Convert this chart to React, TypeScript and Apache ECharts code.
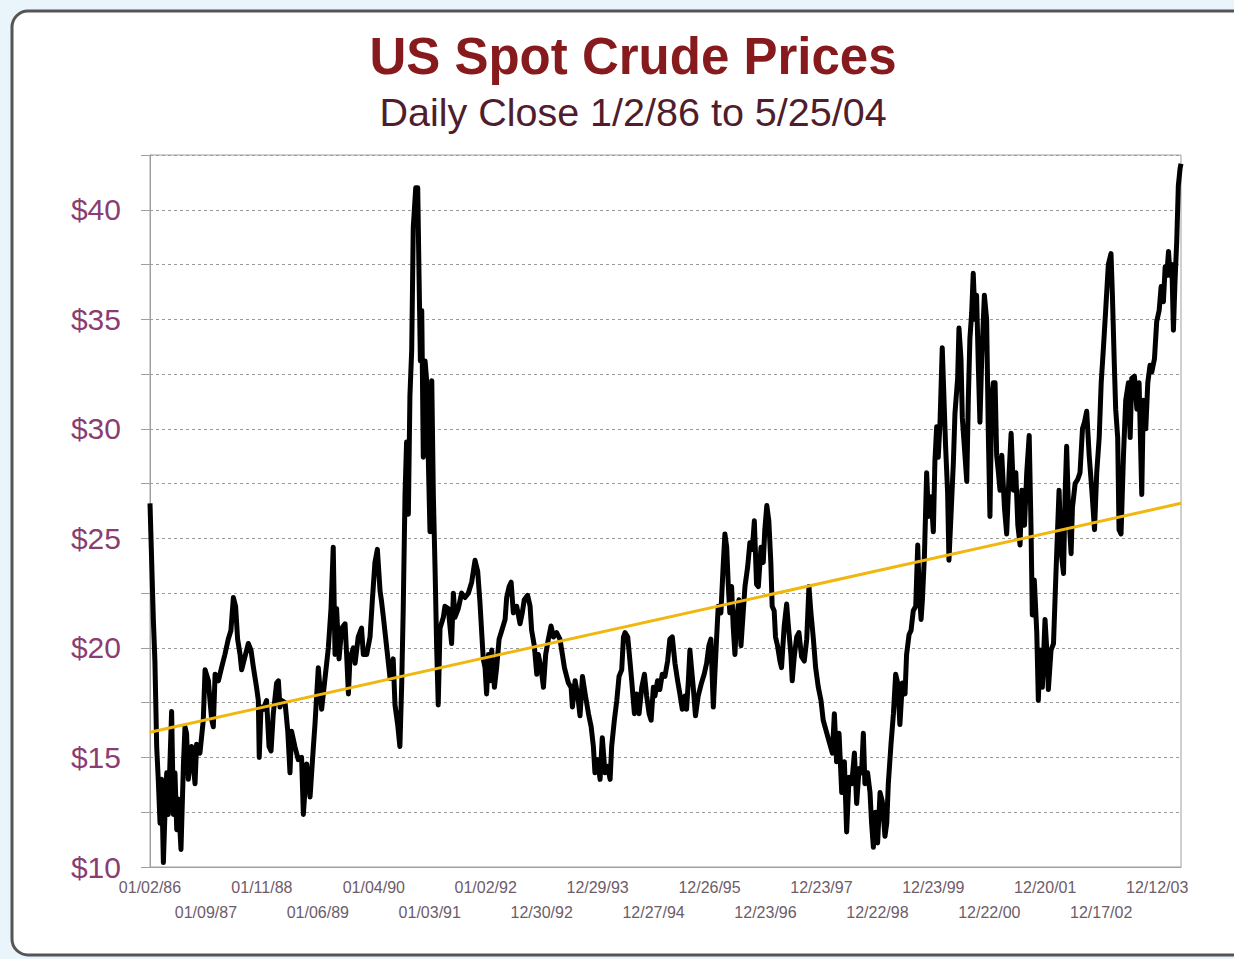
import React, { useEffect, useRef } from "react";
import * as echarts from "echarts";

// X tick labels, one every 251 trading days
const tickLabels = [
  "01/02/86", "01/09/87", "01/11/88", "01/06/89", "01/04/90", "01/03/91",
  "01/02/92", "12/30/92", "12/29/93", "12/27/94", "12/26/95", "12/23/96",
  "12/23/97", "12/22/98", "12/23/99", "12/22/00", "12/20/01", "12/17/02", "12/12/03",
];
const TICK_STEP = 251;
const LAST_DAY = 4625;

// Trading-day index (from 1/2/86) and spot price
const days = [
  0, 15, 22, 30, 37, 45, 52, 60, 67, 75, 82, 97, 105, 112, 120, 127, 139, 150, 157, 164,
  172, 187, 202, 209, 224, 239, 247, 262, 269, 277, 284, 292, 307, 321, 336, 351, 363, 374, 384, 393,
  404, 411, 426, 441, 453, 464, 478, 486, 490, 498, 508, 523, 534, 543, 553, 568, 576, 583, 591, 606,
  618, 628, 635, 650, 665, 680, 688, 703, 718, 733,
  740, 755, 770, 785, 800, 812, 822, 830, 837, 848, 860, 875, 882, 890, 897, 912, 920, 934, 949, 957,
  972, 987, 997, 1009, 1020, 1032, 1039, 1047, 1062, 1077, 1091, 1099, 1111, 1121, 1129, 1136, 1144, 1151, 1159, 1166,
  1174, 1181, 1192, 1201, 1207, 1213, 1219, 1226, 1234, 1241, 1249, 1256, 1264, 1271, 1279, 1286, 1293, 1301, 1316, 1323,
  1338, 1353, 1361, 1368, 1383, 1398, 1413, 1428, 1443, 1458, 1470, 1480, 1488, 1495,
  1503, 1510, 1518, 1525, 1533, 1545, 1555, 1566, 1578, 1593, 1600, 1611, 1620, 1630, 1645, 1660, 1670, 1679, 1694, 1705,
  1712, 1724, 1735, 1742, 1754, 1765, 1775, 1787, 1799, 1810, 1824, 1839, 1850, 1859, 1869, 1877, 1889, 1895, 1907, 1919,
  1929, 1940, 1952, 1967, 1979, 1989, 1996, 2008, 2019, 2029, 2041, 2053, 2064, 2071, 2083, 2094, 2104, 2116, 2124, 2131,
  2143, 2153, 2161, 2173, 2183, 2194, 2206, 2218, 2228, 2239, 2248, 2258,
  2265, 2277, 2287, 2298, 2310, 2322, 2332, 2343, 2355, 2367, 2377, 2388, 2400, 2407, 2415, 2422, 2429, 2437, 2447, 2459,
  2474, 2486, 2497, 2507, 2516, 2527, 2534, 2542, 2549, 2561, 2572, 2579, 2587, 2594, 2601, 2609, 2616, 2624, 2631, 2642,
  2651, 2661, 2669, 2681, 2691, 2702, 2711, 2721, 2729, 2741, 2751, 2758, 2767, 2776, 2785, 2791, 2800, 2806, 2815, 2826,
  2833, 2845, 2856, 2863, 2875, 2881, 2890, 2901, 2911, 2923, 2935, 2946, 2956, 2965, 2976, 2986, 2998, 3010, 3020,
  3050, 3061, 3070, 3080, 3091, 3103, 3115, 3125, 3136, 3148, 3160, 3170, 3181, 3192, 3200, 3207, 3219, 3230, 3237, 3245,
  3255, 3264, 3275, 3285, 3297, 3305, 3312, 3324, 3335, 3345, 3354, 3364, 3375, 3387, 3394, 3405, 3414, 3424, 3435, 3444,
  3450, 3459, 3465, 3474, 3484, 3492, 3504, 3514, 3521, 3529, 3536, 3544, 3554, 3563, 3569, 3578, 3584, 3593, 3604, 3611,
  3623, 3629, 3638, 3644, 3653, 3664, 3671, 3678, 3686, 3693, 3701, 3708, 3716, 3723, 3731, 3743, 3753, 3761, 3768, 3776, 3783,
  3791, 3798, 3806, 3813, 3821, 3833, 3843, 3854, 3863, 3873, 3884, 3893, 3903, 3911, 3923, 3933, 3944, 3952, 3958, 3967,
  3978, 3985, 3993, 4003, 4015, 4023, 4030, 4042, 4053, 4063, 4072, 4078, 4087, 4098, 4105, 4112, 4120, 4132, 4138, 4150,
  4162, 4172, 4183, 4192, 4202, 4213, 4225, 4237, 4247, 4258, 4267, 4277, 4287, 4299, 4311, 4317, 4326, 4332, 4341, 4347,
  4356, 4367, 4377, 4389, 4397, 4404, 4416, 4427, 4437, 4449, 4456, 4467, 4476, 4486, 4494, 4506, 4516, 4527, 4536, 4546,
  4554, 4561, 4569, 4576, 4584, 4591, 4598, 4606, 4613, 4621, 4625,
];
const prices = [
  26.6, 21.3, 19.4, 15.5, 14.0, 12.0, 14.0, 10.2, 12.4, 14.3, 12.4, 17.1, 12.4, 14.3, 11.7, 13.1, 10.8, 14.7, 16.4, 16.1,
  14.0, 15.5, 13.8, 15.6, 15.2, 16.7, 19.0, 18.5, 17.6, 16.7, 16.4, 18.8, 18.5, 19.1, 19.7, 20.4, 20.8, 22.3, 21.9, 20.4,
  19.7, 19.0, 19.6, 20.2, 19.9, 19.1, 18.2, 17.6, 15.0, 17.3, 17.2, 17.6, 15.5, 15.3, 17.0, 18.4, 18.5, 17.3, 17.6, 17.5,
  16.2, 14.3, 16.2, 15.5, 14.9, 15.0, 12.4, 14.7, 13.2, 15.5,
  16.5, 19.1, 17.2, 18.6, 20.0, 21.8, 24.6, 19.7, 21.8, 19.5, 20.9, 21.1, 19.7, 17.9, 19.5, 20.0, 19.3, 20.5, 20.9, 19.7,
  19.7, 20.5, 22.1, 23.9, 24.5, 22.6, 22.1, 21.4, 20.0, 18.6, 19.5, 17.4, 16.5, 15.5, 18.3, 21.8, 27.0, 29.4, 26.1, 31.5,
  33.6, 39.2, 41.0, 41.0, 36.9, 33.1, 35.4, 28.7, 33.1, 32.2, 28.4, 25.3, 32.2, 27.0, 23.5, 20.0, 17.4, 20.9, 21.4, 21.9,
  21.8, 20.2, 22.5, 21.4, 21.8, 22.5, 22.3, 22.5, 23.0, 24.0, 23.5, 22.1, 20.7, 19.5,
  19.1, 17.9, 19.7, 18.5, 19.9, 18.2, 19.1, 20.4, 20.8, 21.3, 22.3, 22.8, 23.0, 21.6, 21.9, 21.1, 21.6, 22.2, 22.4, 21.9,
  20.8, 20.1, 18.8, 19.7, 19.1, 18.2, 19.7, 20.4, 21.0, 20.5, 20.7, 20.4, 19.7, 19.1, 18.7, 18.4, 18.2, 17.3, 18.5, 17.8,
  16.9, 18.7, 17.9, 17.0, 16.4, 15.5, 14.3, 14.9, 14.0, 15.9, 14.3, 14.6, 14.0, 15.5, 16.7, 17.6, 18.7, 19.0, 20.5, 20.7,
  20.5, 19.4, 18.5, 17.0, 17.9, 17.0, 18.2, 18.8, 17.8, 17.0, 16.7, 18.2,
  17.8, 18.5, 18.1, 18.8, 18.7, 19.4, 20.4, 20.5, 19.3, 18.5, 17.9, 17.2, 17.8, 17.2, 18.5, 19.9, 19.1, 18.2, 16.9, 17.8,
  18.4, 18.8, 19.3, 20.1, 20.4, 17.3, 18.8, 20.5, 21.9, 21.6, 23.9, 25.2, 24.6, 22.9, 21.6, 22.8, 21.0, 19.7, 21.3, 22.2,
  20.1, 21.6, 22.8, 23.7, 24.8, 24.5, 25.8, 22.9, 22.8, 24.6, 23.9, 25.4, 26.5, 25.8, 23.9, 21.9, 21.7, 20.5, 20.1, 19.4,
  19.1, 21.0, 22.0, 21.1, 19.7, 18.5, 19.6, 20.5, 20.7, 19.6, 19.4, 20.4, 22.8, 21.6, 20.4, 19.1, 18.2, 17.6, 16.7,
  15.6, 15.2, 17.0, 14.8, 16.1, 13.4, 14.8, 11.6, 14.1, 13.8, 15.2, 12.9, 14.5, 14.3, 16.1, 13.8, 14.3, 13.4, 12.0, 10.9,
  12.5, 11.1, 13.4, 13.0, 11.4, 12.0, 13.8, 15.6, 17.0, 18.8, 18.4, 16.5, 18.4, 17.9, 19.7, 20.6, 20.8, 21.7, 21.9, 24.7,
  22.7, 21.3, 22.2, 24.2, 28.0, 26.0, 26.9, 25.3, 28.5, 30.1, 28.7, 30.3, 33.7, 31.0, 29.2, 27.1, 24.0, 26.0, 28.5, 30.7,
  32.3, 34.6, 33.2, 30.5, 29.2, 27.6, 31.4, 34.1, 35.3, 37.1, 35.0, 36.1, 32.8, 30.3, 33.2, 36.1, 35.0, 29.6, 26.0, 31.4, 32.1,
  32.1, 28.8, 28.0, 27.2, 28.8, 26.4, 25.2, 28.0, 29.8, 27.2, 28.0, 25.6, 24.7, 27.2, 25.6, 28.0, 29.7, 25.6, 21.5, 23.1,
  20.7, 17.6, 19.9, 18.2, 21.3, 19.9, 18.1, 19.9, 20.2, 23.1, 25.6, 27.2, 24.4, 23.4, 27.0, 29.2, 26.4, 24.3, 26.4, 27.5,
  27.7, 28.0, 30.0, 30.3, 30.8, 28.8, 27.2, 25.4, 28.0, 29.6, 32.1, 33.7, 35.4, 37.5, 38.0, 36.2, 32.9, 30.9, 29.6, 25.4,
  25.2, 28.8, 31.3, 32.1, 29.6, 32.3, 32.4, 30.9, 32.1, 27.0, 31.3, 30.0, 32.1, 32.9, 32.6, 33.2, 34.9, 35.4, 36.5, 35.8,
  37.4, 37.0, 38.1, 37.0, 37.5, 34.5, 36.7, 38.6, 41.1, 41.9, 42.1,
];

// Linear trend line end values
const trendDays = [0, LAST_DAY];
const trendValues = [16.15, 26.6];

const FONT = "'Liberation Sans', Arial, sans-serif";
const XLABEL_COLOR = "#6d5c69";

function labelFor(v: number, wantOdd: boolean) {
  const i = Math.round(v / TICK_STEP);
  if ((i % 2 === 1) !== wantOdd) return "";
  return tickLabels[i] ?? "";
}

export default function App() {
  const ref = useRef<HTMLDivElement>(null);

  useEffect(() => {
    if (!ref.current) return;
    const chart = echarts.init(ref.current, undefined, { renderer: "svg" });
    const priceData = days.map((d, i) => [d, prices[i]]);
    const trendData = trendDays.map((d, i) => [d, trendValues[i]]);

    const baseX = {
      type: "value",
      min: 0,
      max: LAST_DAY,
      interval: TICK_STEP,
      position: "bottom",
      axisTick: { show: false },
      splitLine: { show: false },
    };

    chart.setOption({
      animation: false,
      backgroundColor: "#eaf5fb",
      graphic: [
        {
          type: "rect",
          z: -10,
          shape: { x: 12, y: 11, width: 1250, height: 944, r: 16 },
          style: { fill: "#ffffff", stroke: "#555555", lineWidth: 3 },
        },
      ],
      title: [
        {
          text: "US Spot Crude Prices",
          left: 628,
          top: 26,
          textAlign: "center",
          textStyle: { fontFamily: FONT, fontSize: 51, fontWeight: "bold", color: "#861a1c" },
        },
        {
          text: "Daily Close 1/2/86 to 5/25/04",
          left: 628,
          top: 87,
          textAlign: "center",
          textStyle: { fontFamily: FONT, fontSize: 39.5, fontWeight: "normal", color: "#4f1d2c" },
        },
      ],
      grid: {
        left: 150,
        right: 53,
        top: 155,
        bottom: 92,
        show: true,
        backgroundColor: "#ffffff",
        borderColor: "#a0a0a0",
        borderWidth: 1,
        containLabel: false,
      },
      xAxis: [
        {
          ...baseX,
          axisLine: { show: true, lineStyle: { color: "#a0a0a0" } },
          axisLabel: {
            showMinLabel: true,
            showMaxLabel: false,
            margin: 12,
            fontFamily: FONT,
            fontSize: 16,
            color: XLABEL_COLOR,
            formatter: (v: number) => labelFor(v, false),
          },
        },
        {
          ...baseX,
          axisLine: { show: false },
          axisLabel: {
            showMinLabel: true,
            showMaxLabel: false,
            margin: 37,
            fontFamily: FONT,
            fontSize: 16,
            color: XLABEL_COLOR,
            formatter: (v: number) => labelFor(v, true),
          },
        },
      ],
      yAxis: {
        type: "value",
        min: 10,
        max: 42.5,
        interval: 2.5,
        axisLine: { show: true, lineStyle: { color: "#a0a0a0" } },
        axisTick: { show: true, inside: false, length: 9, lineStyle: { color: "#a0a0a0" } },
        splitLine: { show: true, lineStyle: { color: "#9a9a9a", type: [3, 3], width: 1 } },
        axisLabel: {
          margin: 29,
          fontFamily: FONT,
          fontSize: 30,
          color: "#8a3d72",
          formatter: (v: number) => (v % 5 === 0 ? "$" + v : ""),
        },
      },
      series: [
        {
          type: "line",
          xAxisIndex: 0,
          data: priceData,
          showSymbol: false,
          lineStyle: { color: "#000000", width: 5, join: "round" },
          z: 3,
        },
        {
          type: "line",
          xAxisIndex: 0,
          data: trendData,
          showSymbol: false,
          lineStyle: { color: "#f0b70f", width: 3 },
          z: 4,
        },
      ],
    });

    return () => chart.dispose();
  }, []);

  return (
    <div
      ref={ref}
      style={{ position: "fixed", left: 0, top: 0, width: 1234, height: 959 }}
    />
  );
}
